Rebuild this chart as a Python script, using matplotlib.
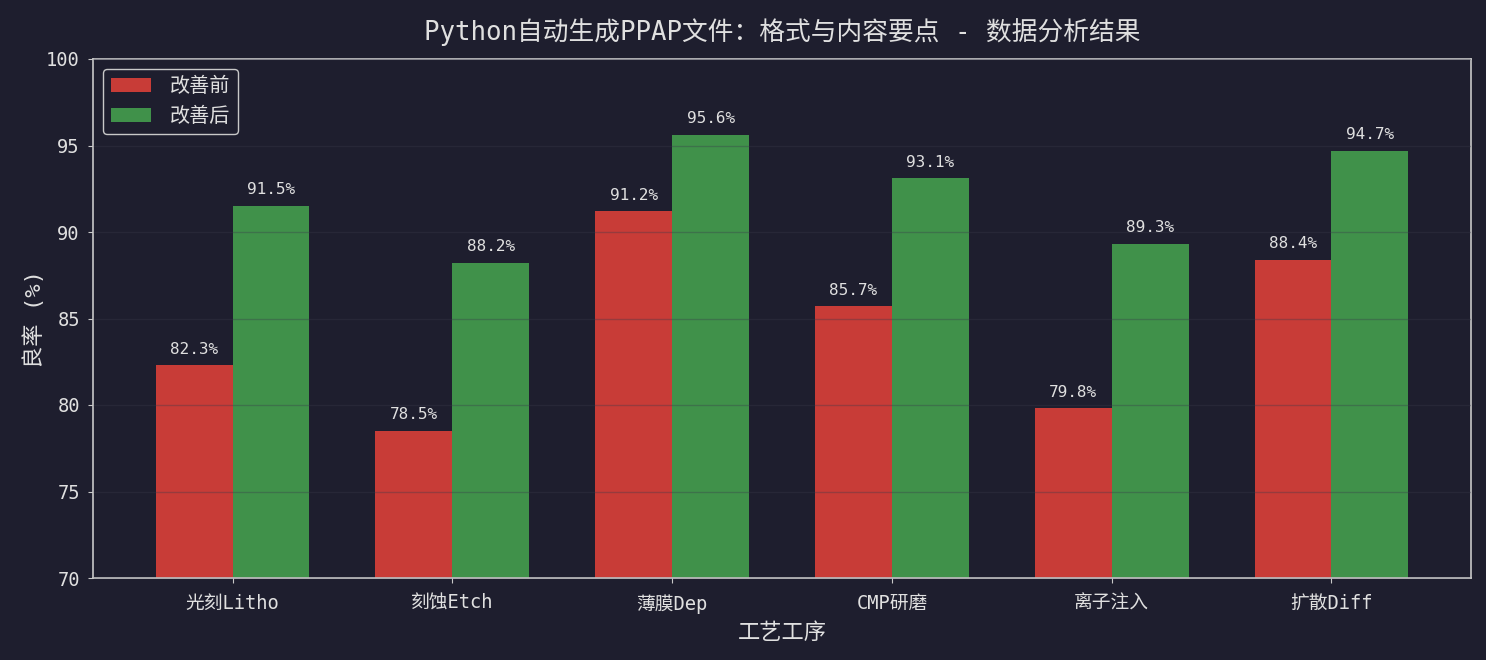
import matplotlib
matplotlib.use("Agg")
import matplotlib.pyplot as plt
import numpy as np

plt.rcParams['font.family'] = ['DejaVu Sans Mono', 'Noto Sans CJK SC']

categories = ['光刻Litho', '刻蚀Etch', '薄膜Dep', 'CMP研磨', '离子注入', '扩散Diff']
before = [82.3, 78.5, 91.2, 85.7, 79.8, 88.4]
after = [91.5, 88.2, 95.6, 93.1, 89.3, 94.7]
series_names = ['改善前', '改善后']

bg = '#1e1e2e'
fg = '#e0e0e0'
spine_c = '#c8c8c8'

fig = plt.figure(figsize=(14.86, 6.6), dpi=100, facecolor=bg)
ax = fig.add_axes([93/1486, 1-578/660, (1471-93)/1486, (578-59)/660])
ax.set_facecolor(bg)

x = np.arange(len(categories))
w = 0.35
b1 = ax.bar(x - w/2, before, w, color='#c83c37', label=series_names[0], zorder=2)
b2 = ax.bar(x + w/2, after, w, color='#40914a', label=series_names[1], zorder=2)

for rects, vals in ((b1, before), (b2, after)):
    for r, v in zip(rects, vals):
        ax.text(r.get_x() + r.get_width()/2, v + 0.5, f'{v}%', ha='center', va='bottom',
                color=fg, fontsize=11.5, zorder=4)

ax.set_ylim(70, 100)
ax.set_xticks(x)
ax.set_xticklabels(categories)
ax.tick_params(colors=spine_c, labelcolor=fg, labelsize=13.5)
ax.tick_params(axis='x', pad=8)
ax.tick_params(axis='y', pad=6)
for s in ax.spines.values():
    s.set_color(spine_c)
    s.set_linewidth(1.2)
ax.yaxis.grid(True, color='#3a3a4a', alpha=0.35, linewidth=1, zorder=3)
ax.set_axisbelow(False)

ax.set_xlabel('工艺工序', color=fg, fontsize=16, labelpad=6)
ax.set_ylabel('良率 (%)', color=fg, fontsize=16, labelpad=1)
ax.set_title('Python自动生成PPAP文件：格式与内容要点 - 数据分析结果', color=fg, fontsize=18.5, pad=14)

leg = ax.legend(loc='upper left', fontsize=14.5, facecolor=bg, edgecolor=spine_c, framealpha=1,
                handlelength=2.0, handletextpad=0.9, borderaxespad=0.5)
for t in leg.get_texts():
    t.set_color(fg)

fig.savefig('out.png', dpi=100, facecolor=bg)
